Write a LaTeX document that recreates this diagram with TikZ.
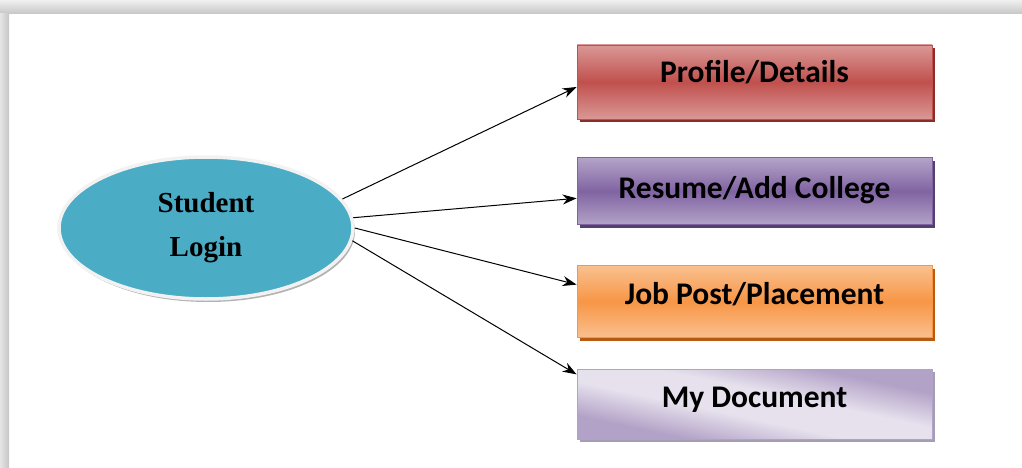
\documentclass[tikz,border=0pt]{standalone}
\usepackage{fontspec}
\setmainfont{Carlito}
\newfontfamily\loginfont{Liberation Serif}
\usetikzlibrary{positioning,arrows,calc,shapes.geometric,shadows,arrows.meta}
\definecolor{loginblue}{HTML}{4BACC6}
\definecolor{profmid}{HTML}{C0504D}
\definecolor{proflight}{HTML}{DA9896}
\definecolor{profdark}{HTML}{8A2E2C}
\definecolor{resmid}{HTML}{8064A2}
\definecolor{reslight}{HTML}{B4A3C8}
\definecolor{resdark}{HTML}{54406E}
\definecolor{jobmid}{HTML}{F79646}
\definecolor{joblight}{HTML}{FAC08F}
\definecolor{jobdark}{HTML}{B85A10}
\definecolor{doclight}{HTML}{E6E1ED}
\definecolor{docmid}{HTML}{B3A2C7}
\definecolor{docdark}{HTML}{A59DB3}
\pgfdeclareverticalshading{docshade}{100bp}{color(0bp)=(docmid); color(30bp)=(docmid);
	color(44bp)=(doclight); color(56bp)=(doclight); color(70bp)=(docmid); color(100bp)=(docmid)}
\tikzset{
	portal/.style={x=1pt,y=-1pt,>={Stealth[length=14pt,width=10pt]},line width=1pt},
	login/.style={ellipse,draw=gray!10,line width=3.5pt,fill=loginblue,
		minimum width=294pt,minimum height=142pt,align=center,
		font=\loginfont\bfseries\fontsize{29}{44}\selectfont,
		drop shadow={shadow xshift=2pt,shadow yshift=-3pt,fill=gray!60,opacity=1}},
	menu/.style={rectangle,line width=0.8pt,minimum width=355pt,
		text height=20pt,text depth=14pt,
		font=\bfseries\fontsize{31.5}{36}\selectfont},
	menu shade/.style n args={3}{menu,draw=#1,top color=#2,bottom color=#2,middle color=#1,
		drop shadow={shadow xshift=3pt,shadow yshift=-3pt,fill=#3,opacity=1}}
}

\begin{document}
\begin{tikzpicture}[portal]
	\useasboundingbox (0,0) rectangle (1022,468);
	% frame shadow
	\shade[top color=gray!12,bottom color=gray!45] (0,0) rectangle (1022,14);
	\shade[left color=gray!20,right color=gray!45] (0,14) rectangle (9,468);
	
	\node[login] (sl) at (206,228) {Student\\Login};
	
	\node[menu shade={profmid}{proflight}{profdark},minimum height=74pt,text depth=18pt] (prof) at (754.5,82) {Profile/Details};
	\node[menu shade={resmid}{reslight}{resdark},minimum height=67pt,text depth=6pt] (res) [below=38pt of prof] {Resume/Add College};
	\node[menu shade={jobmid}{joblight}{jobdark},minimum height=72pt] (job) [below=40pt of res] {Job Post/Placement};
	\node[menu,draw=docmid,minimum height=70pt,shading=docshade,shading angle=-12,
		drop shadow={shadow xshift=3pt,shadow yshift=-3pt,fill=docdark,opacity=1}] (doc) [below=31pt of job] {My Document};
	
	\path[->] (sl.12) edge ([yshift=-5pt]prof.west);
	\path[->] (sl.4) edge ([yshift=-7pt]res.west);
	\path[->] (sl.0) edge ([yshift=17pt]job.west);
	\path[->] (sl.-5) edge ([yshift=30pt]doc.west);
\end{tikzpicture}
\end{document}
